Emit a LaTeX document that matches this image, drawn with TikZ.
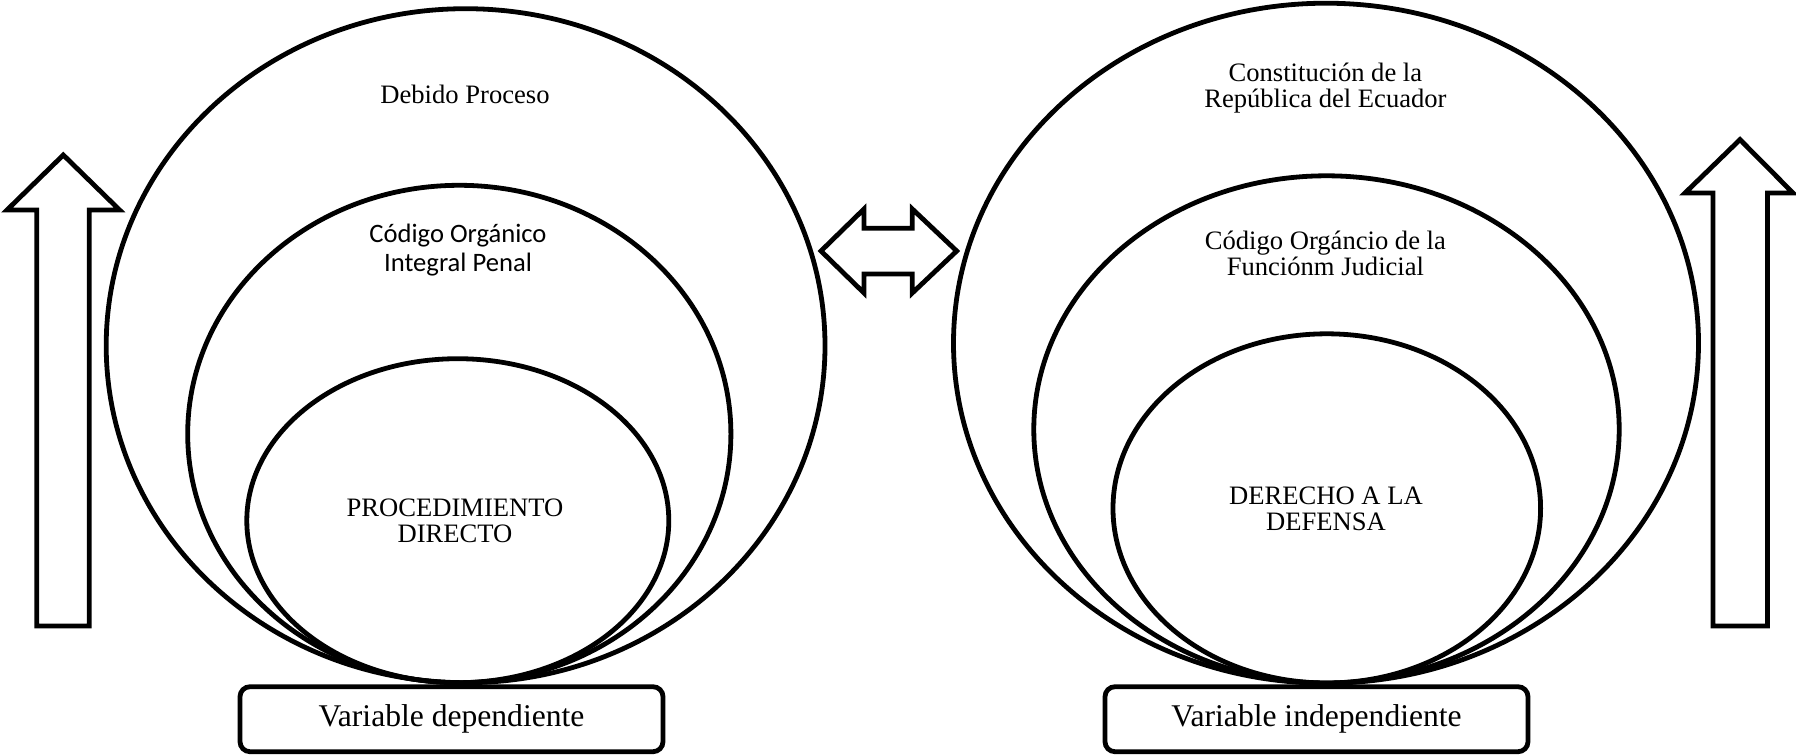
\documentclass[tikz,border=0pt]{standalone}
\usepackage{fontspec}
\setmainfont{Liberation Serif}
\newfontfamily\calibrifont{Carlito}
\usetikzlibrary{shapes.geometric,positioning}

\begin{document}
\begin{tikzpicture}[x=0.5pt, y=-0.5pt,
    ring/.style={draw, ellipse, line width=2.4pt, inner sep=0pt},
    blockarrow/.style={draw, line width=2.4pt, line join=miter},
    ringtext/.style={align=center, inner sep=0pt, font=\fontsize{13.3}{12.8}\selectfont},
    varbox/.style={draw, line width=2.4pt, rounded corners=5pt, minimum width=211.5pt,
        minimum height=32.5pt, font=\fontsize{15.8}{18}\selectfont}]
    \useasboundingbox (0,0) rectangle (1796,755);

    % Nested ellipses
    \foreach \n/\x/\y/\w/\h in {outerL/465.6/345.7/359.4/337, midL/459.3/434/271.6/248.7,
        innerL/457.8/520.7/211/162, outerR/1326/343.2/372.5/340, midR/1326.5/429.4/292.7/253.6,
        innerR/1326.8/508.4/213.8/174.6} {
        \node[ring, minimum width=\w pt, minimum height=\h pt] (\n) at (\x,\y) {};
    }

    % Labels inside the ellipses
    \node[ringtext] (debido) at (465,94) {Debido Proceso};
    \node[ringtext, font=\calibrifont\fontsize{13.3}{14.65}\selectfont] (coip) at (458,250) {Código Orgánico\\Integral Penal};
    \node[ringtext] (procdir) at (455,521) {PROCEDIMIENTO\\DIRECTO};
    \node[ringtext] (constit) at (1325.4,88.3) {Constitución de la\\República del Ecuador};
    \node[ringtext] (cofj) at (1325.4,253.2) {Código Orgáncio de la\\Funciónm Judicial};
    \node[ringtext] (defensa) at (1326,509) {DERECHO A LA\\DEFENSA};

    % Variable boxes
    \node[varbox] (vdep) at (451.5,719.2) {Variable dependiente};
    \node[varbox] (vindep) at (1316.5,719.2) {Variable independiente};

    % Up arrows
    \draw[blockarrow] (36.7,626) -- (36.7,210) -- (7,210) -- (63.3,155) -- (119.6,210)
        -- (89.3,210) -- (89.3,626) -- cycle;
    \draw[blockarrow] (1712.9,626) -- (1712.9,193) -- (1685,193) -- (1740,139.6) -- (1793,193)
        -- (1767.4,193) -- (1767.4,626) -- cycle;

    % Double arrow
    \draw[blockarrow] (821,251) -- (864,209) -- (864,228.3) -- (912.3,228.3) -- (912.3,209)
        -- (956.7,251) -- (912.3,293) -- (912.3,274) -- (864,274) -- (864,293) -- cycle;
\end{tikzpicture}
\end{document}
